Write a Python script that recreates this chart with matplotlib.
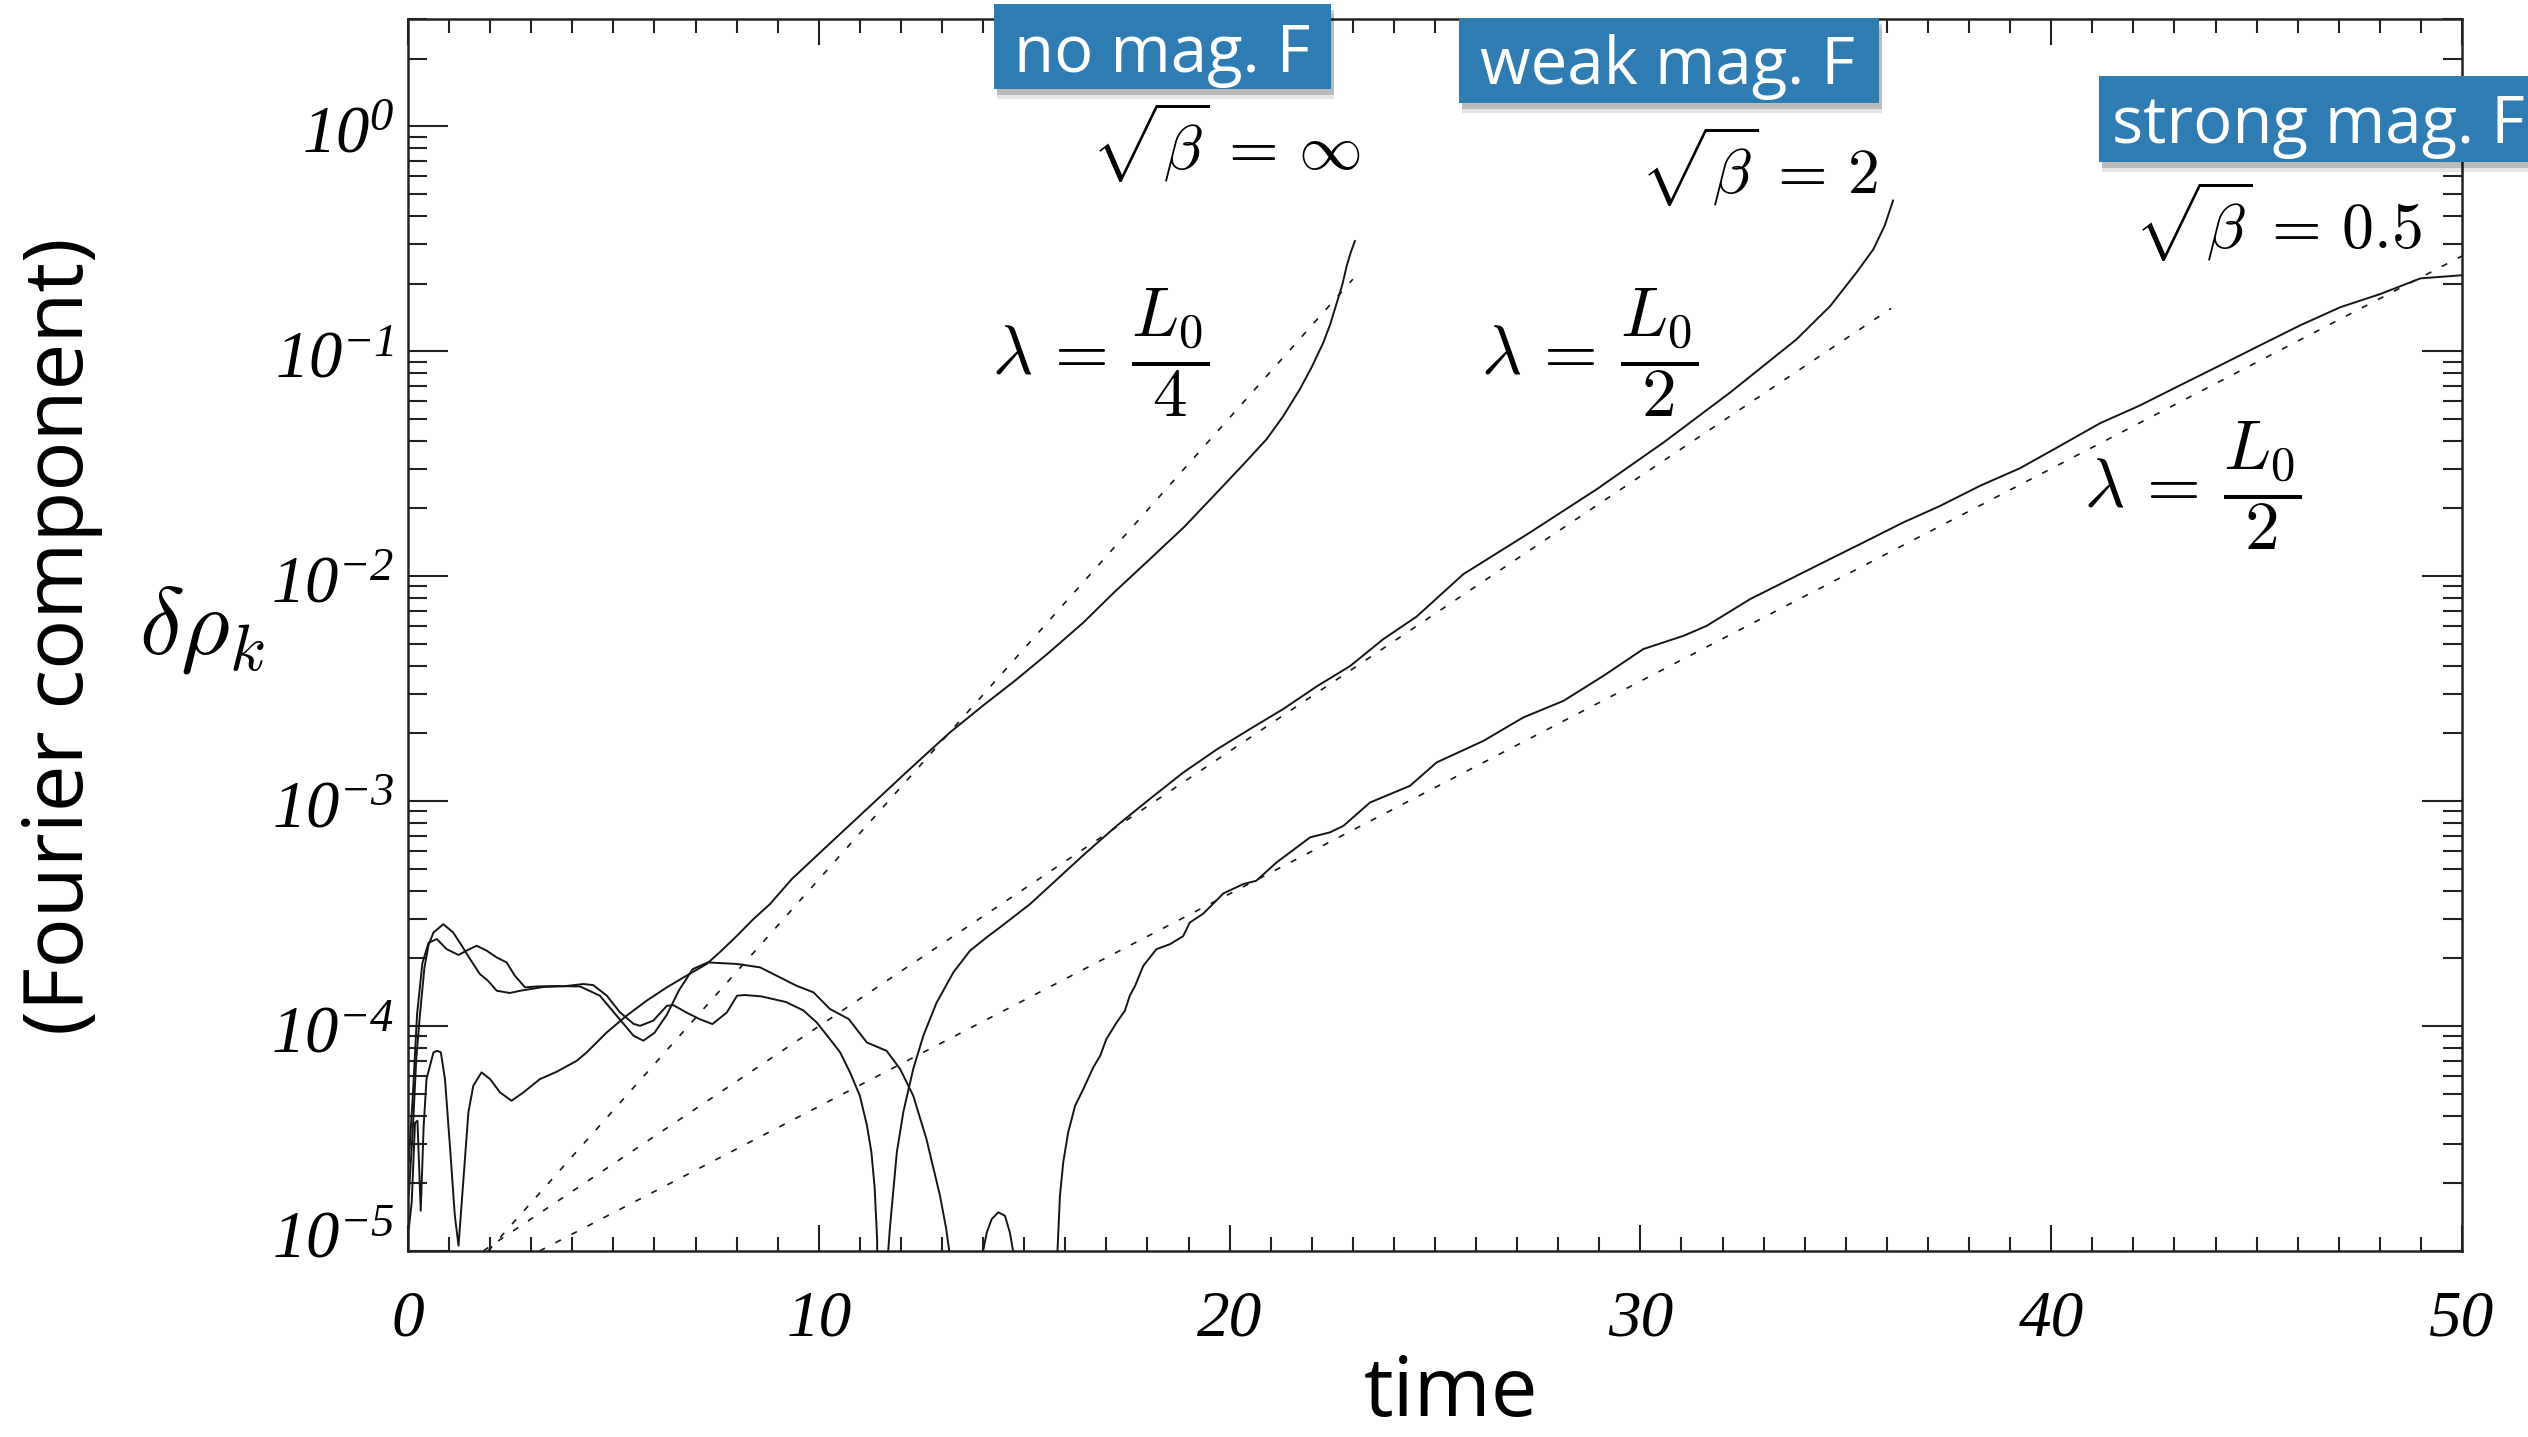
import numpy as np
import matplotlib
matplotlib.use('Agg')
import matplotlib.pyplot as plt
import matplotlib.transforms as mtransforms
from matplotlib.patches import Rectangle
from matplotlib.ticker import MultipleLocator, LogLocator, NullFormatter

W, H = 2528, 1437

# log10 |delta rho_k|, per run
t_nomag = [0.02, 0.09, 0.17, 0.23, 0.31, 0.38, 0.45, 0.62, 0.71, 0.80, 0.90, 1.02, 1.14, 1.23,
           1.35, 1.47, 1.59, 1.79, 2.00, 2.24, 2.52, 2.81, 3.21, 3.62, 4.11, 4.35, 4.84, 5.32,
           5.81, 6.30, 6.78, 7.27, 7.60, 8.00, 8.41, 8.81, 9.34, 10.2, 11.2, 12.2, 13.19, 14.00,
           14.82, 15.6, 16.44, 17.2, 18.06, 18.9, 19.69, 20.30, 20.90, 21.30, 21.71, 22.00,
           22.28, 22.45, 22.61, 22.75, 22.85, 22.95, 23.05]
lg_nomag = [-4.9, -4.784, -4.43, -4.421, -4.821, -4.45, -4.236, -4.117, -4.110, -4.117, -4.236,
            -4.532, -4.843, -4.976, -4.68, -4.384, -4.265, -4.206, -4.236, -4.295, -4.332, -4.295,
            -4.236, -4.203, -4.154, -4.117, -4.028, -3.954, -3.887, -3.828, -3.776, -3.724, -3.67,
            -3.60, -3.524, -3.458, -3.347, -3.20, -3.03, -2.86, -2.695, -2.575, -2.458, -2.34,
            -2.206, -2.07, -1.924, -1.78, -1.628, -1.51, -1.391, -1.29, -1.169, -1.07, -0.962,
            -0.88, -0.784, -0.70, -0.621, -0.56, -0.51]

t_weak = [0.02, 0.12, 0.20, 0.29, 0.40, 0.50, 0.62, 0.86, 1.10, 1.31, 1.51, 1.75, 1.95, 2.16,
          2.48, 2.73, 2.97, 3.30, 3.80, 4.27, 4.51, 4.84, 5.16, 5.49, 5.65, 5.97, 6.30, 6.46,
          6.78, 7.11, 7.41, 7.76, 8.01, 8.20, 8.60, 9.20, 9.62, 9.95, 10.27, 10.52, 10.76, 11.00,
          11.17, 11.28, 11.36, 11.42, 11.45, 11.66, 11.69, 11.73, 11.78, 11.90, 12.06, 12.30,
          12.55, 12.87, 13.28, 13.68, 14.09, 14.49, 15.14, 15.63, 16.44, 17.25, 18.06, 18.87,
          19.69, 20.49, 21.31, 22.12, 22.93, 23.74, 24.55, 25.69, 27.31, 28.94, 30.56, 32.18,
          33.80, 34.62, 35.26, 35.67, 35.95, 36.15]
lg_weak = [-4.75, -4.45, -4.15, -3.95, -3.74, -3.64, -3.584, -3.547, -3.584, -3.643, -3.702,
           -3.769, -3.799, -3.843, -3.853, -3.843, -3.836, -3.826, -3.823, -3.813, -3.818, -3.865,
           -3.939, -3.99, -3.999, -3.976, -3.91, -3.907, -3.94, -3.97, -3.991, -3.94, -3.865,
           -3.862, -3.868, -3.893, -3.93, -3.984, -4.058, -4.117, -4.206, -4.31, -4.44, -4.56,
           -4.72, -4.95, -6.0, -6.0, -5.0, -4.9, -4.80, -4.56, -4.38, -4.19, -4.04, -3.895, -3.76,
           -3.665, -3.605, -3.55, -3.458, -3.376, -3.24, -3.11, -2.99, -2.873, -2.77, -2.68,
           -2.59, -2.49, -2.40, -2.28, -2.18, -1.991, -1.806, -1.613, -1.406, -1.184, -0.947,
           -0.799, -0.650, -0.547, -0.44, -0.33]

t_strong = [0.02, 0.12, 0.22, 0.35, 0.50, 0.70, 0.94, 1.23, 1.43, 1.67, 1.91, 2.16, 2.40, 2.60,
            2.85, 3.13, 3.60, 4.19, 4.67, 5.08, 5.49, 5.73, 6.00, 6.30, 6.60, 6.93, 7.30, 7.60,
            8.01, 8.57, 9.46, 9.87, 10.27, 10.73, 11.17, 11.65, 11.98, 12.30, 12.62, 12.95, 13.10,
            13.18, 13.22, 13.95, 14.00, 14.09, 14.21, 14.37, 14.53, 14.65, 14.73, 14.78, 15.76,
            15.81, 15.87, 15.95, 16.07, 16.24, 16.44, 16.68, 16.85, 17.00, 17.25, 17.45, 17.57,
            17.70, 17.90, 18.22, 18.55, 18.87, 19.03, 19.36, 19.85, 20.33, 20.65, 21.14, 21.96,
            22.44, 22.77, 23.42, 24.39, 25.04, 26.18, 27.15, 28.13, 29.10, 30.07, 31.05, 31.61,
            32.67, 34.45, 35.43, 36.40, 37.29, 38.27, 39.24, 40.22, 41.19, 42.17, 43.14, 44.12,
            45.09, 46.07, 47.04, 48.02, 48.99, 50.0]
lg_strong = [-4.6, -4.3, -3.95, -3.72, -3.63, -3.613, -3.658, -3.684, -3.664, -3.643, -3.664,
             -3.695, -3.717, -3.776, -3.828, -3.824, -3.822, -3.824, -3.865, -3.954, -4.043,
             -4.065, -4.03, -3.95, -3.84, -3.747, -3.717, -3.72, -3.724, -3.739, -3.821, -3.85,
             -3.924, -3.969, -4.073, -4.11, -4.191, -4.31, -4.502, -4.754, -4.90, -5.006, -6.0,
             -6.0, -5.0, -4.917, -4.858, -4.828, -4.843, -4.917, -5.0, -6.0, -6.0, -5.0, -4.754,
             -4.606, -4.473, -4.354, -4.28, -4.184, -4.132, -4.058, -3.984, -3.932, -3.865,
             -3.821, -3.732, -3.658, -3.636, -3.60, -3.54, -3.50, -3.41, -3.369, -3.354, -3.273,
             -3.161, -3.139, -3.11, -3.006, -2.932, -2.828, -2.732, -2.628, -2.554, -2.443,
             -2.324, -2.265, -2.221, -2.102, -1.939, -1.85, -1.761, -1.688, -1.598, -1.52, -1.42,
             -1.32, -1.24, -1.151, -1.062, -0.973, -0.884, -0.804, -0.745, -0.676, -0.662]

# linear-theory growth lines (end points)
fit_nomag_t, fit_nomag = [1.95, 23.0], [1e-5, 0.209]
fit_weak_t, fit_weak = [1.83, 36.1], [1e-5, 0.155]
fit_strong_t, fit_strong = [3.2, 50.0], [1e-5, 0.265]

x_ticks = [0, 10, 20, 30, 40, 50]
x_labels = ['0', '10', '20', '30', '40', '50']
y_ticks = [1e-5, 1e-4, 1e-3, 1e-2, 1e-1, 1e0]
y_labels = [r'$10^{-5}$', r'$10^{-4}$', r'$10^{-3}$', r'$10^{-2}$', r'$10^{-1}$', r'$10^{0}$']

plt.rcParams['mathtext.fontset'] = 'custom'
plt.rcParams['mathtext.rm'] = 'Liberation Serif:italic'
plt.rcParams['mathtext.it'] = 'Liberation Serif:italic'
plt.rcParams['mathtext.bf'] = 'Liberation Serif:italic:bold'

fig = plt.figure(figsize=(W / 100, H / 100), dpi=100)
ax = fig.add_axes([408 / W, 1 - 1251 / H, (2462 - 408) / W, (1251 - 19) / H])

ink = '#151515'
for t, lg in [(t_nomag, lg_nomag), (t_weak, lg_weak), (t_strong, lg_strong)]:
    ax.plot(t, 10 ** np.array(lg), color=ink, lw=1.4)

dash = (0, (3.7, 7.1))
for t, v in [(fit_nomag_t, fit_nomag), (fit_weak_t, fit_weak), (fit_strong_t, fit_strong)]:
    ax.plot(t, v, color=ink, lw=1.2, linestyle=dash)

ax.set_yscale('log')
ax.set_xlim(0, 50)
ax.set_ylim(1e-5, 3.0)

ax.set_xticks(x_ticks, labels=x_labels, fontfamily='Liberation Serif', fontstyle='italic', fontsize=47)
ax.xaxis.set_minor_locator(MultipleLocator(1))
ax.set_yticks(y_ticks, labels=y_labels, fontsize=48)
ax.yaxis.set_minor_locator(LogLocator(base=10, subs=np.arange(2, 10), numticks=100))
ax.yaxis.set_minor_formatter(NullFormatter())
ax.tick_params(axis='both', which='both', direction='in', top=True, right=True,
               color='#222222', width=1.5)
ax.tick_params(axis='x', which='major', length=19, pad=28)
ax.tick_params(axis='x', which='minor', length=10)
ax.tick_params(axis='y', which='major', length=29, pad=10)
ax.tick_params(axis='y', which='minor', length=14)
for s in ax.spines.values():
    s.set_linewidth(1.8)
    s.set_color('#222222')

# lowest label sits a little higher, as in the original
lab = ax.get_yticklabels()[0]
lab.set_transform(lab.get_transform() + mtransforms.ScaledTranslation(0, 14 / 72, fig.dpi_scale_trans))


def fx(px):
    return px / W


def fy(py):
    return 1 - py / H


# axis titles
fig.text(fx(62), fy(636), '(Fourier component)', rotation=90, family='Open Sans',
         fontsize=60, ha='center', va='center')
fig.text(fx(202), fy(630), r'$\delta\rho_k$', math_fontfamily='cm', fontsize=68,
         ha='center', va='center')
fig.text(fx(1451), fy(1436), 'time', family='Open Sans',
         fontsize=60, ha='center', va='bottom')

# curve annotations
fig.text(fx(1226), fy(143), r'$\sqrt{\beta}\,=\,\infty$', math_fontfamily='cm', fontsize=46,
         ha='center', va='center')
fig.text(fx(1759), fy(167), r'$\sqrt{\beta}\,=\,2$', math_fontfamily='cm', fontsize=46,
         ha='center', va='center')
fig.text(fx(2278), fy(222), r'$\sqrt{\beta}\,=\,0.5$', math_fontfamily='cm', fontsize=46,
         ha='center', va='center')
fig.text(fx(1101), fy(353), r'$\lambda\,=\,\dfrac{L_0}{4}$', math_fontfamily='cm', fontsize=50,
         ha='center', va='center')
fig.text(fx(1590), fy(353), r'$\lambda\,=\,\dfrac{L_0}{2}$', math_fontfamily='cm', fontsize=50,
         ha='center', va='center')
fig.text(fx(2193), fy(486), r'$\lambda\,=\,\dfrac{L_0}{2}$', math_fontfamily='cm', fontsize=50,
         ha='center', va='center')

# blue sticky labels
blue = '#2f7cb3'
boxes = [(994, 4, 1331, 89, 'no mag. F', 1162, 72, 'center'),
         (1459, 18, 1879, 103, 'weak mag. F', 1667, 84, 'center'),
         (2099, 76, 2560, 162, 'strong mag. F', 2112, 143, 'left')]
for x0, y0, x1, y1, txt, tx, ty, ha in boxes:
    for off, a in [(10, 0.10), (6, 0.18)]:
        fig.add_artist(Rectangle((fx(x0 + 3), fy(y1 + off)), (x1 - x0) / W, (y1 - y0) / H,
                                 transform=fig.transFigure, facecolor='black', alpha=a,
                                 edgecolor='none', zorder=9))
    fig.add_artist(Rectangle((fx(x0), fy(y1)), (x1 - x0) / W, (y1 - y0) / H,
                             transform=fig.transFigure, facecolor=blue, edgecolor='none',
                             zorder=10))
    fig.text(fx(tx), fy(ty), txt, color='white', family='Open Sans', fontsize=47,
             ha=ha, va='baseline', zorder=11)

fig.savefig('out.png', dpi=100, facecolor='white')
